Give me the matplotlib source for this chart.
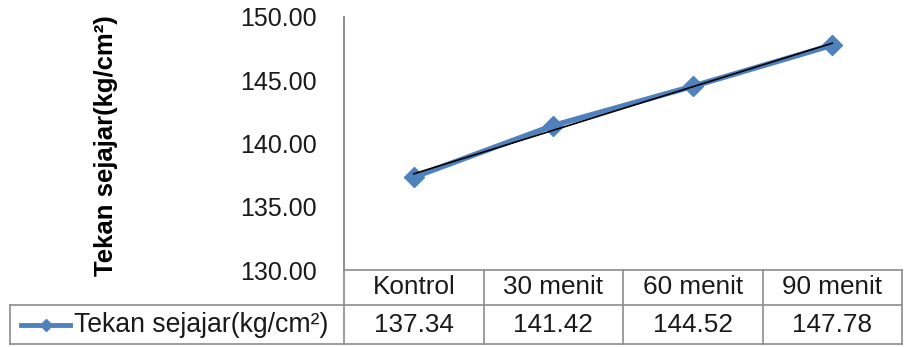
import numpy as np
import matplotlib
matplotlib.use("Agg")
import matplotlib.pyplot as plt
from matplotlib.lines import Line2D

# ======================
# |       DATA         |
# ======================
categories = ["Kontrol", "30 menit", "60 menit", "90 menit"]
values = [137.34, 141.42, 144.52, 147.78]
series_name = "Tekan sejajar(kg/cm²)"
y_label = "Tekan sejajar(kg/cm²)"
y_ticks = [130, 135, 140, 145, 150]

blue = "#4F81BD"
grid_gray = "#8C8C8C"
text_col = "#1A1A1A"

plt.rcParams["font.family"] = ["Liberation Sans", "DejaVu Sans"]

fig = plt.figure(figsize=(9.05, 3.47), dpi=100)
W, H = 905, 347

def fx(px):
    return px / W

def fy(py):
    return 1 - py / H

# plot area
left, right, top, bottom = 344, 902, 17, 270
ax = fig.add_axes([fx(left), fy(bottom), fx(right) - fx(left), fy(top) - fy(bottom)])

x = np.arange(len(categories))
ax.plot(x, values, color=blue, lw=4, marker="D", ms=10, mec=blue, mfc=blue, zorder=3)

# linear trendline
coef = np.polyfit(x, values, 1)
ax.plot(x, np.polyval(coef, x), color="black", lw=1.2, zorder=4)

ax.set_xlim(-0.5, len(categories) - 0.5)
ax.set_ylim(130, 150)
ax.set_yticks(y_ticks)
ax.set_yticklabels([f"{t:.2f}" for t in y_ticks], fontsize=18, color=text_col)
ax.tick_params(axis="y", length=0, pad=19.5)
ax.set_xticks([])
for s in ["top", "right", "bottom"]:
    ax.spines[s].set_visible(False)
ax.spines["left"].set_color(grid_gray)
ax.spines["left"].set_linewidth(1.2)

fig.text(fx(106), fy(145.5), y_label, rotation=90, fontsize=18.5, fontweight="bold",
         ha="center", va="center")

# ======================
# |    DATA TABLE      |
# ======================
row1_top, row1_bot, row2_bot = 270, 305, 344
legend_left = 10
col_w = (right - left) / len(categories)

def hline(y, x0, x1):
    fig.add_artist(Line2D([fx(x0), fx(x1)], [fy(y), fy(y)], color=grid_gray, lw=1.2))

def vline(xp, y0, y1):
    fig.add_artist(Line2D([fx(xp), fx(xp)], [fy(y0), fy(y1)], color=grid_gray, lw=1.2))

hline(row1_top, left, right)
hline(row1_bot, legend_left, right)
hline(row2_bot, legend_left, right)
vline(legend_left, row1_bot, row2_bot)
vline(left, top, row2_bot)
for i in range(1, len(categories) + 1):
    vline(left + i * col_w, row1_top, row2_bot)

for i, (cat, val) in enumerate(zip(categories, values)):
    cx = left + (i + 0.5) * col_w
    fig.text(fx(cx), fy((row1_top + row1_bot) / 2), cat, fontsize=18.8,
             ha="center", va="center", color=text_col)
    fig.text(fx(cx), fy((row1_bot + row2_bot) / 2), f"{val:.2f}", fontsize=18.8,
             ha="center", va="center", color=text_col)

# legend key in table
ky = fy((row1_bot + row2_bot) / 2)
fig.add_artist(Line2D([fx(21), fx(70)], [ky, ky], color=blue, lw=3.5))
fig.add_artist(Line2D([fx(46)], [ky], color=blue, marker="D", ms=6, lw=0))
fig.text(fx(74), ky, series_name, fontsize=19.2, ha="left", va="center", color=text_col)

fig.savefig("out.png", dpi=100)
